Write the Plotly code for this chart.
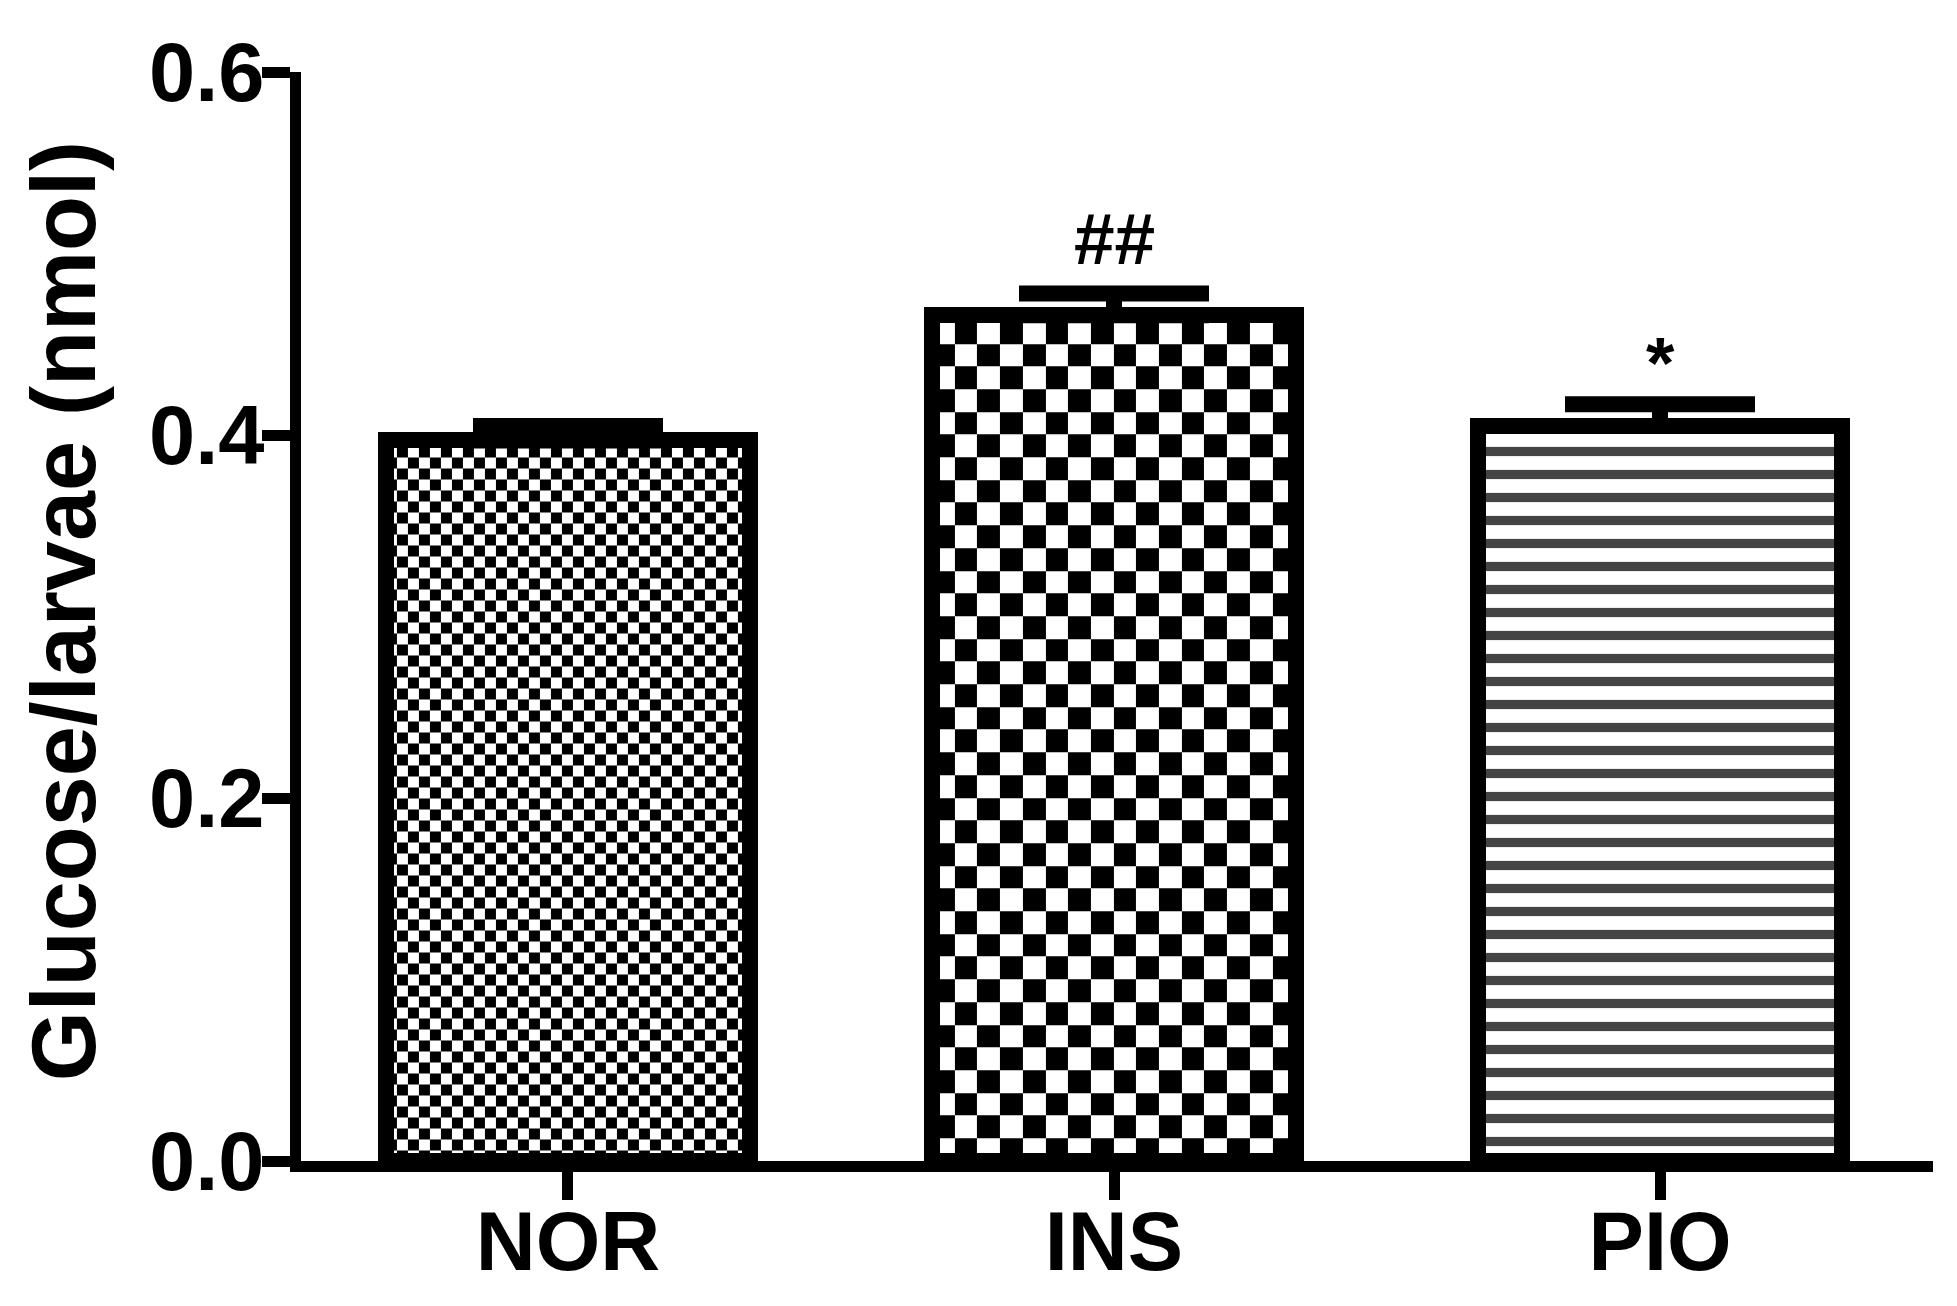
import numpy as np
import plotly.graph_objects as go

# data
groups = ["NOR", "INS", "PIO"]
glucose = [0.397, 0.466, 0.405]
sem = [0.008, 0.012, 0.012]
marks = ["", "##", "*"]

# styling
bar_w = 0.667
cell_px = [11.0, 22.7, None]      # checker square size in px, None = stripes
mark_shift = [0, 12, -1]
font_fam = "Liberation Sans, Arial, sans-serif"

W, H = 1957, 1306
ml, mr, mt, mb = 301, 24, 72, 145
xr = [-0.489, 2.5]
yr = [0, 0.6]
px_x = (W - ml - mr) / (xr[1] - xr[0])
px_y = (H - mt - mb) / (yr[1] - yr[0])

fig = go.Figure()

# checkerboard fills drawn as heatmaps under the bars
for i, (g, v, c) in enumerate(zip(groups, glucose, cell_px)):
    if c is None:
        continue
    dx, dy = c / px_x, c / px_y
    x0, x1 = i - bar_w / 2, i + bar_w / 2
    xe = np.append(np.arange(x0, x1, dx), x1)
    ye = np.append(np.arange(0, v, dy), v)
    z = np.add.outer(np.arange(len(ye) - 1), np.arange(len(xe) - 1)) % 2
    fig.add_trace(go.Heatmap(x=xe, y=ye, z=z, zmin=0, zmax=1,
                             colorscale=[[0, "white"], [1, "black"]],
                             showscale=False, hoverinfo="skip", zsmooth=False))

fig.add_trace(go.Bar(
    x=list(range(len(groups))), y=glucose, width=bar_w,
    marker=dict(color=["rgba(0,0,0,0)" if c else "white" for c in cell_px],
                line=dict(color="black", width=16),
                pattern=dict(shape=["" if c else "-" for c in cell_px],
                             fgcolor="black", bgcolor="white", fgopacity=1,
                             size=23, solidity=0.4)),
    error_y=dict(type="data", symmetric=False, array=sem,
                 arrayminus=[0] * len(sem), thickness=16, width=95,
                 color="black"),
    hoverinfo="skip",
))

for i, (v, e, m, s) in enumerate(zip(glucose, sem, marks, mark_shift)):
    if m:
        fig.add_annotation(x=i, y=v + e, text="<b>" + m + "</b>",
                           showarrow=False, yanchor="bottom", yshift=s,
                           font=dict(family=font_fam, size=73, color="black"))

fig.add_annotation(x=-0.1447, y=0.5046, xref="paper", yref="paper",
                   text="<b>Glucose/larvae (nmol)</b>", textangle=-90,
                   showarrow=False, xanchor="center", yanchor="middle",
                   font=dict(family=font_fam, size=90, color="black"))

axis_common = dict(showline=True, linecolor="black", linewidth=11,
                   ticks="outside", ticklen=28, tickwidth=11,
                   tickcolor="black", showgrid=False, zeroline=False,
                   automargin=False,
                   tickfont=dict(family=font_fam, size=83, color="black",
                                 weight="bold"))

fig.update_xaxes(range=xr, tickvals=list(range(len(groups))),
                 ticktext=groups, ticklabelstandoff=-30, **axis_common)
fig.update_yaxes(range=yr, tickvals=[0, 0.2, 0.4, 0.6], tickformat=".1f",
                 ticklabelstandoff=-19, **axis_common)

fig.update_layout(width=W, height=H,
                  margin=dict(l=ml, r=mr, t=mt, b=mb, pad=0),
                  plot_bgcolor="white", paper_bgcolor="white",
                  showlegend=False, bargap=0)

fig.write_html("out.html", config={"displayModeBar": False},
               post_script="document.body.style.margin='0';"
                           "document.body.style.overflow='hidden';")
